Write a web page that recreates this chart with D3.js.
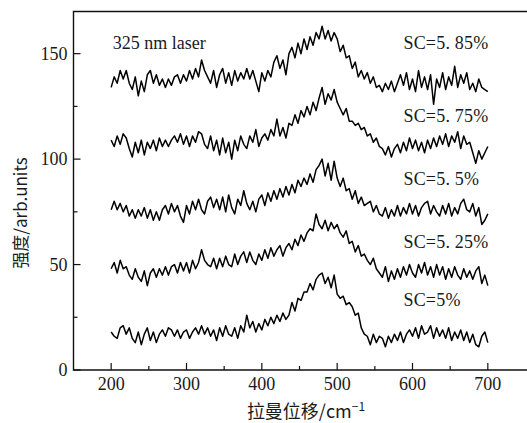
<!DOCTYPE html>
<html>
<head>
<meta charset="utf-8">
<script src="https://cdn.jsdelivr.net/npm/d3@7"></script>
<style>
body { margin: 0; background: #fff; }
svg text { fill: #1a1a1a; }
.times { font-family: "Liberation Serif", "Times New Roman", serif; }
.cjk { font-family: "Noto Sans CJK SC", sans-serif; }
</style>
</head>
<body>
<svg id="chart" width="527" height="423"></svg>
<script>
// wavenumber grid, cm-1
var shifts = d3.range(200, 701, 4);

var labels = ["SC=5. 85%", "SC=5. 75%", "SC=5. 5%", "SC=5. 25%", "SC=5%"];

var sc585 = [134,139,136,142,138, 142,136,133,139,130, 137,132,140,142,136, 140,135,138,134,138,
	135,139,140,136,140, 137,142,138,143,139, 147,142,139,136,142, 134,140,143,136,141,
	135,142,137,141,138, 143,138,142,137,132, 141,137,142,139,146, 149,143,147,140,150,
	153,148,155,150,157, 152,158,154,160,157, 163,157,161,156,160, 157,151,154,148,149,
	143,146,139,142,138, 141,136,139,134,135, 132,136,133,137,132, 136,140,135,141,133,
	138,132,142,134,139, 133,140,126,138,134, 141,133,139,135,144, 134,140,136,141,133,
	136,132,138,134,133, 132];

var sc575 = [109,106,111,107,112, 110,105,101,108,103, 109,102,108,105,109, 104,110,106,109,106,
	109,111,108,112,107, 111,106,111,108,113, 112,107,105,111,104, 109,102,110,103,108,
	100,109,104,111,107, 105,111,108,114,106, 110,112,109,114,111, 119,111,115,110,117,
	116,121,117,123,120, 125,121,127,123,129, 134,126,131,128,133, 127,124,121,124,118,
	118,116,117,114,115, 111,112,108,110,106, 105,102,106,101,105, 107,103,108,104,110,
	105,109,104,108,103, 109,105,110,106,111, 107,112,106,111,108, 113,105,111,107,108,
	103,98,104,100,103, 106];

var sc55 = [76,80,76,79,75, 78,73,76,72,76, 73,77,72,76,71, 75,71,76,78,74,
	79,75,78,73,70, 78,74,80,76,81, 76,74,80,82,77, 81,76,82,75,83,
	77,74,81,78,85, 79,76,80,75,81, 83,78,84,80,85, 81,86,82,87,83,
	88,84,90,87,91, 88,93,89,95,97, 100,92,98,90,99, 91,87,91,85,86,
	81,85,79,82,78, 79,80,75,78,74, 73,77,72,76,73, 78,73,77,74,79,
	74,78,73,77,79, 80,74,78,75,73, 78,74,79,73,77, 74,79,81,76,75,
	79,73,77,69,71, 74];

var sc525 = [48,51,46,52,48, 49,45,43,48,44, 42,47,40,46,48, 44,48,45,49,45,
	49,50,46,51,47, 51,46,52,48,51, 57,52,50,49,53, 48,53,49,54,50,
	49,55,50,54,56, 51,56,52,50,55, 52,57,53,58,54, 57,59,54,58,60,
	57,62,59,64,61, 65,67,66,74,69, 67,71,66,70,67, 69,65,63,66,60,
	61,56,59,54,55, 52,50,53,48,46, 44,49,42,47,43, 48,44,49,45,50,
	46,44,50,46,51, 45,49,44,50,45, 49,43,48,44,49, 45,43,48,44,47,
	43,47,49,41,45, 40];

var sc5 = [18,16,15,20,21, 17,20,15,13,18, 12,17,20,14,18, 13,17,19,16,20,
	19,16,19,15,18, 19,15,18,20,17, 21,17,20,16,19, 14,20,16,21,17,
	16,20,15,21,18, 26,20,23,18,22, 19,24,21,25,22, 26,23,27,24,26,
	32,28,34,33,37, 37,41,38,43,45, 46,41,44,39,45, 36,34,35,31,32,
	30,26,27,20,17, 16,12,17,13,16, 15,11,16,13,17, 14,18,13,17,19,
	16,20,15,21,17, 18,21,15,20,16, 19,15,20,14,18, 15,19,14,18,13,
	17,12,11,16,18, 13];

var series = [sc585, sc575, sc55, sc525, sc5];
// label baselines, in intensity units
var labelY = [152, 117.5, 87.5, 58, 30.5];

var xTicks = [200, 300, 400, 500, 600, 700];
var yTicks = [0, 50, 100, 150];

var svg = d3.select("#chart");
var x = d3.scaleLinear().domain([150, 750]).range([73.5, 525.5]);
var y = d3.scaleLinear().domain([0, 170]).range([370, 11.5]);

// frame (no right side visible)
svg.append("path")
	.attr("d", "M" + 528 + "," + y(170) + "H" + x(150) + "V" + y(0) + "H" + 528)
	.style("fill", "none")
	.style("stroke", "#111")
	.style("stroke-width", 1.4);

// inward ticks
var xAxis = svg.append("g").attr("transform", "translate(0," + y(0) + ")");
xAxis.selectAll("line")
	.data(d3.range(200, 701, 50))
	.enter().append("line")
	.attr("x1", function(d) { return x(d); })
	.attr("x2", function(d) { return x(d); })
	.attr("y1", 0)
	.attr("y2", function(d) { return d % 100 == 0 ? -7 : -4; })
	.style("stroke", "#111")
	.style("stroke-width", 1.2);
xAxis.selectAll("text")
	.data(xTicks)
	.enter().append("text")
	.attr("class", "times")
	.attr("x", function(d) { return x(d); })
	.attr("y", 20)
	.attr("text-anchor", "middle")
	.style("font-size", "18px")
	.text(function(d) { return d; });

var yAxis = svg.append("g").attr("transform", "translate(" + x(150) + ",0)");
yAxis.selectAll("line")
	.data(d3.range(0, 151, 25))
	.enter().append("line")
	.attr("y1", function(d) { return y(d); })
	.attr("y2", function(d) { return y(d); })
	.attr("x1", 0)
	.attr("x2", function(d) { return d % 50 == 0 ? 7 : 4; })
	.style("stroke", "#111")
	.style("stroke-width", 1.2);
yAxis.selectAll("text")
	.data(yTicks)
	.enter().append("text")
	.attr("class", "times")
	.attr("x", -6)
	.attr("y", function(d) { return y(d); })
	.attr("dy", "0.34em")
	.attr("text-anchor", "end")
	.style("font-size", "18px")
	.text(function(d) { return d; });

// spectra
var line = d3.line()
	.x(function(d, i) { return x(shifts[i]); })
	.y(function(d) { return y(d); });

svg.append("g").selectAll("path.spec")
	.data(series)
	.enter().append("path")
	.attr("class", "spec")
	.attr("d", line)
	.style("fill", "none")
	.style("stroke", "#000")
	.style("stroke-width", 1.5)
	.style("stroke-linejoin", "round");

// series labels
svg.append("g").selectAll("text")
	.data(labels)
	.enter().append("text")
	.attr("class", "times")
	.attr("x", x(588))
	.attr("y", function(d, i) { return y(labelY[i]); })
	.style("font-size", "18px")
	.style("letter-spacing", "0.2px")
	.text(function(d) { return d; });

svg.append("text")
	.attr("class", "times")
	.attr("x", x(202))
	.attr("y", y(152))
	.style("font-size", "18px")
	.text("325 nm laser");

// axis titles
var xt = svg.append("text")
	.attr("class", "cjk")
	.attr("x", 306)
	.attr("y", 418)
	.attr("text-anchor", "middle")
	.style("font-size", "18px");
xt.append("tspan").text("拉曼位移/cm");
xt.append("tspan").attr("dy", -7).style("font-size", "12px").text("−1");

svg.append("text")
	.attr("class", "cjk")
	.attr("transform", "translate(27,213) rotate(-90)")
	.attr("text-anchor", "middle")
	.style("font-size", "17px")
	.text("强度/arb.units");
</script>
</body>
</html>
